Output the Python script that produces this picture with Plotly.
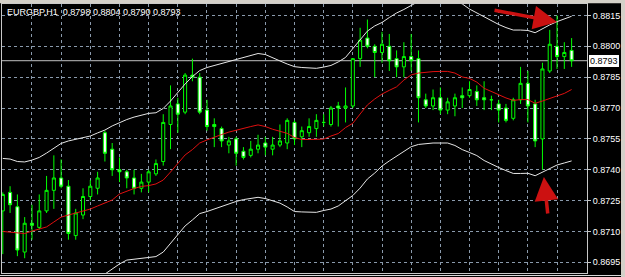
import plotly.graph_objects as go

# ---------------- data (EURGBP, H1) ----------------
symbol = "EURGBP,H1"

open_ = [0.8720, 0.8729, 0.8722, 0.8700, 0.8714, 0.8712, 0.8720, 0.8730, 0.8736, 0.8732,
         0.8708, 0.8718, 0.8727, 0.8731, 0.8758, 0.8750, 0.8740, 0.8739, 0.8736, 0.8731,
         0.8734, 0.8738, 0.8744, 0.8762, 0.8772, 0.8768, 0.8786, 0.8785, 0.8769, 0.8762,
         0.8760, 0.8752, 0.8755, 0.8749, 0.8747, 0.8750, 0.8753, 0.8750, 0.8752, 0.8753,
         0.8763, 0.8756, 0.8758, 0.8760, 0.8763, 0.8762, 0.8771, 0.8770, 0.8771, 0.8794,
         0.8804, 0.8800, 0.8797, 0.8800, 0.8794, 0.8790, 0.8795, 0.8794, 0.8774, 0.8771,
         0.8775, 0.8769, 0.8771, 0.8776, 0.8776, 0.8778, 0.8775, 0.8774, 0.8772, 0.8770,
         0.8765, 0.8774, 0.8782, 0.8772, 0.8755, 0.8788, 0.8800, 0.8795, 0.8798]
high = [0.8729, 0.8732, 0.8728, 0.8717, 0.8723, 0.8728, 0.8737, 0.8747, 0.8745, 0.8735,
        0.8721, 0.8731, 0.8735, 0.8739, 0.8759, 0.8753, 0.8746, 0.8740, 0.8740, 0.8738,
        0.8740, 0.8745, 0.8767, 0.8781, 0.8775, 0.8787, 0.8794, 0.8787, 0.8774, 0.8765,
        0.8761, 0.8756, 0.8756, 0.8751, 0.8754, 0.8757, 0.8756, 0.8756, 0.8762, 0.8765,
        0.8764, 0.8761, 0.8765, 0.8767, 0.8767, 0.8771, 0.8773, 0.8780, 0.8794, 0.8809,
        0.8813, 0.8801, 0.8807, 0.8806, 0.8798, 0.8802, 0.8806, 0.8798, 0.8777, 0.8779,
        0.8780, 0.8775, 0.8777, 0.8780, 0.8783, 0.8781, 0.8783, 0.8776, 0.8774, 0.8772,
        0.8775, 0.8790, 0.8788, 0.8774, 0.8792, 0.8808, 0.8815, 0.8802, 0.8804]
low = [0.8699, 0.8719, 0.8698, 0.8697, 0.8706, 0.8711, 0.8719, 0.8721, 0.8731, 0.8706,
       0.8706, 0.8716, 0.8725, 0.8728, 0.8744, 0.8737, 0.8734, 0.8731, 0.8728, 0.8729,
       0.8729, 0.8737, 0.8742, 0.8750, 0.8758, 0.8767, 0.8783, 0.8767, 0.8759, 0.8751,
       0.8751, 0.8748, 0.8742, 0.8745, 0.8746, 0.8748, 0.8747, 0.8747, 0.8751, 0.8750,
       0.8752, 0.8751, 0.8756, 0.8756, 0.8761, 0.8761, 0.8761, 0.8763, 0.8770, 0.8790,
       0.8799, 0.8785, 0.8792, 0.8788, 0.8785, 0.8785, 0.8788, 0.8763, 0.8770, 0.8769,
       0.8767, 0.8767, 0.8766, 0.8770, 0.8775, 0.8771, 0.8769, 0.8769, 0.8763, 0.8763,
       0.8764, 0.8772, 0.8763, 0.8751, 0.8740, 0.8787, 0.8789, 0.8789, 0.8790]
close = [0.8728, 0.8723, 0.8701, 0.8714, 0.8713, 0.8720, 0.8730, 0.8736, 0.8732, 0.8709,
         0.8719, 0.8727, 0.8732, 0.8736, 0.8748, 0.8740, 0.8739, 0.8736, 0.8731, 0.8734,
         0.8739, 0.8743, 0.8763, 0.8771, 0.8767, 0.8786, 0.8785, 0.8768, 0.8761, 0.8761,
         0.8754, 0.8754, 0.8748, 0.8746, 0.8750, 0.8752, 0.8751, 0.8752, 0.8754, 0.8764,
         0.8755, 0.8759, 0.8761, 0.8764, 0.8763, 0.8770, 0.8770, 0.8771, 0.8794, 0.8803,
         0.8800, 0.8797, 0.8801, 0.8793, 0.8790, 0.8795, 0.8793, 0.8775, 0.8771, 0.8775,
         0.8769, 0.8773, 0.8775, 0.8775, 0.8779, 0.8774, 0.8774, 0.8774, 0.8769, 0.8764,
         0.8774, 0.8782, 0.8771, 0.8754, 0.8789, 0.8801, 0.8795, 0.8797, 0.8793]

# Bollinger Bands (20)
bb_upper = [0.87455, 0.87452, 0.87440, 0.87438, 0.87447, 0.87460, 0.87481, 0.87506, 0.87528, 0.87540,
            0.87547, 0.87554, 0.87564, 0.87579, 0.87593, 0.87613, 0.87630, 0.87644, 0.87656, 0.87666,
            0.87674, 0.87677, 0.87698, 0.87734, 0.87778, 0.87817, 0.87853, 0.87882, 0.87897, 0.87907,
            0.87916, 0.87926, 0.87938, 0.87948, 0.87958, 0.87965, 0.87960, 0.87943, 0.87929, 0.87914,
            0.87901, 0.87897, 0.87895, 0.87893, 0.87899, 0.87907, 0.87924, 0.87946, 0.87989, 0.88031,
            0.88074, 0.88099, 0.88116, 0.88140, 0.88162, 0.88179, 0.88198, 0.88218, 0.88223, 0.88225,
            0.88225, 0.88225, 0.88220, 0.88206, 0.88181, 0.88162, 0.88142, 0.88123, 0.88106, 0.88091,
            0.88079, 0.88079, 0.88077, 0.88066, 0.88086, 0.88104, 0.88120, 0.88135, 0.88146]
bb_middle = [0.87100, 0.87097, 0.87093, 0.87090, 0.87102, 0.87112, 0.87122, 0.87146, 0.87170, 0.87180,
             0.87190, 0.87202, 0.87209, 0.87224, 0.87238, 0.87253, 0.87282, 0.87297, 0.87309, 0.87319,
             0.87323, 0.87331, 0.87350, 0.87389, 0.87430, 0.87472, 0.87498, 0.87530, 0.87545, 0.87559,
             0.87571, 0.87583, 0.87593, 0.87603, 0.87610, 0.87618, 0.87610, 0.87597, 0.87588, 0.87577,
             0.87557, 0.87547, 0.87547, 0.87547, 0.87549, 0.87564, 0.87576, 0.87605, 0.87626, 0.87671,
             0.87715, 0.87744, 0.87768, 0.87786, 0.87803, 0.87836, 0.87861, 0.87870, 0.87875, 0.87877,
             0.87878, 0.87878, 0.87870, 0.87851, 0.87844, 0.87826, 0.87796, 0.87780, 0.87763, 0.87749,
             0.87737, 0.87741, 0.87741, 0.87723, 0.87734, 0.87747, 0.87758, 0.87771, 0.87790]
bb_lower = [0.86748, 0.86743, 0.86745, 0.86743, 0.86757, 0.86765, 0.86762, 0.86786, 0.86813, 0.86820,
            0.86833, 0.86850, 0.86854, 0.86869, 0.86893, 0.86918, 0.86942, 0.86961, 0.86966, 0.86971,
            0.86974, 0.86978, 0.87000, 0.87044, 0.87083, 0.87127, 0.87156, 0.87187, 0.87197, 0.87209,
            0.87224, 0.87236, 0.87246, 0.87255, 0.87260, 0.87266, 0.87260, 0.87248, 0.87238, 0.87219,
            0.87197, 0.87195, 0.87193, 0.87193, 0.87202, 0.87209, 0.87224, 0.87248, 0.87275, 0.87311,
            0.87355, 0.87384, 0.87418, 0.87443, 0.87467, 0.87491, 0.87512, 0.87523, 0.87528, 0.87530,
            0.87530, 0.87530, 0.87518, 0.87498, 0.87484, 0.87469, 0.87445, 0.87426, 0.87411, 0.87396,
            0.87382, 0.87382, 0.87383, 0.87371, 0.87389, 0.87406, 0.87423, 0.87433, 0.87443]

price_ticks = [0.8695, 0.8710, 0.8725, 0.8740, 0.8755, 0.8770, 0.8785, 0.8800, 0.8815]
bar_index = list(range(len(close)))
time_grid = bar_index[4:77:4]

# ---------------- figure ----------------
GRID = "#8a9aac"
FRAME = "#c8c8c8"
LIME = "#00ff00"

fig = go.Figure()
fig.add_trace(go.Candlestick(
    x=bar_index, open=open_, high=high, low=low, close=close,
    increasing=dict(line=dict(color=LIME, width=1), fillcolor="#000000"),
    decreasing=dict(line=dict(color=LIME, width=1), fillcolor="#ffffff"),
    whiskerwidth=0, showlegend=False, hoverinfo="skip"))
fig.add_trace(go.Scatter(x=bar_index, y=bb_upper, mode="lines",
                         line=dict(color="#e6e6e6", width=1), showlegend=False, hoverinfo="skip"))
fig.add_trace(go.Scatter(x=bar_index, y=bb_lower, mode="lines",
                         line=dict(color="#e6e6e6", width=1), showlegend=False, hoverinfo="skip"))
fig.add_trace(go.Scatter(x=bar_index, y=bb_middle, mode="lines",
                         line=dict(color="#e01010", width=1), showlegend=False, hoverinfo="skip"))

W, H = 625, 277
ML, MR, MT, MB = 2, 38, 4, 4
PW, PH = W - ML - MR, H - MT - MB


def px_x(px):
    return (px - ML) / PW


def px_y(py):
    return (H - MB - py) / PH


fig.update_layout(
    width=W, height=H,
    margin=dict(l=ML, r=MR, t=MT, b=MB, pad=0),
    paper_bgcolor="#000000", plot_bgcolor="#000000",
    showlegend=False, boxgap=0.4,
    font=dict(family="Liberation Sans, Arial, sans-serif", color="#ffffff", size=9),
    xaxis=dict(range=[-0.11, 80.11], tickvals=time_grid, showticklabels=False, ticks="",
               showgrid=True, gridcolor=GRID, gridwidth=1, griddash="3px,3px",
               zeroline=False, showline=True, mirror=True, linecolor=FRAME, linewidth=1,
               rangeslider=dict(visible=False), fixedrange=True),
    yaxis=dict(range=[0.868982, 0.882056], side="right", tickvals=price_ticks,
               ticktext=[f"{v:.4f}" for v in price_ticks],
               tickfont=dict(color="#ffffff", size=9), ticks="outside", ticklen=3,
               tickcolor=FRAME, showgrid=True, gridcolor=GRID, gridwidth=1, griddash="3px,3px",
               zeroline=False, showline=True, mirror=True, linecolor=FRAME, linewidth=1,
               fixedrange=True),
    shapes=[
        dict(type="line", xref="paper", yref="y", x0=0, x1=1, y0=close[-1], y1=close[-1],
             line=dict(color="#c0c0c0", width=1), layer="between"),
        dict(type="rect", xref="paper", yref="paper", x0=px_x(-2), x1=px_x(W + 2),
             y0=px_y(3.2), y1=px_y(-2), fillcolor="#d4d0c8", line=dict(width=0)),
        dict(type="rect", xref="paper", yref="paper", x0=px_x(621), x1=px_x(W + 2),
             y0=px_y(H + 2), y1=px_y(-2), fillcolor="#d4d0c8", line=dict(width=0)),
        dict(type="line", xref="paper", yref="paper", x0=px_x(0), x1=px_x(621),
             y0=px_y(275.5), y1=px_y(275.5), line=dict(color="#d8d8d8", width=1)),
    ],
    annotations=[
        dict(xref="paper", yref="paper", x=px_x(5), y=px_y(12), xanchor="left", yanchor="middle",
             showarrow=False,
             text=f"{symbol}&nbsp; {open_[-1]:.4f} {high[-1]:.4f} {low[-1]:.4f} {close[-1]:.4f}",
             font=dict(color="#ffffff", size=9)),
        dict(xref="paper", yref="y", x=1, y=close[-1], xanchor="left", yanchor="middle",
             xshift=2, showarrow=False, text=f"{close[-1]:.4f}",
             font=dict(color="#000000", size=9), bgcolor="#ffffff",
             bordercolor="#ffffff", borderwidth=0, borderpad=1),
        # red markup arrows
        dict(x=76.0, y=0.88118, xref="x", yref="y", ax=-64, ay=-12, axref="pixel", ayref="pixel",
             showarrow=True, arrowhead=2, arrowsize=1.35, arrowwidth=3.5, arrowcolor="#cc1111", text=""),
        dict(x=74.2, y=0.87365, xref="x", yref="y", ax=4, ay=38, axref="pixel", ayref="pixel",
             showarrow=True, arrowhead=2, arrowsize=1.35, arrowwidth=3.5, arrowcolor="#cc1111", text=""),
    ],
)

fig.write_html("out.html", config={"displayModeBar": False, "staticPlot": True})
